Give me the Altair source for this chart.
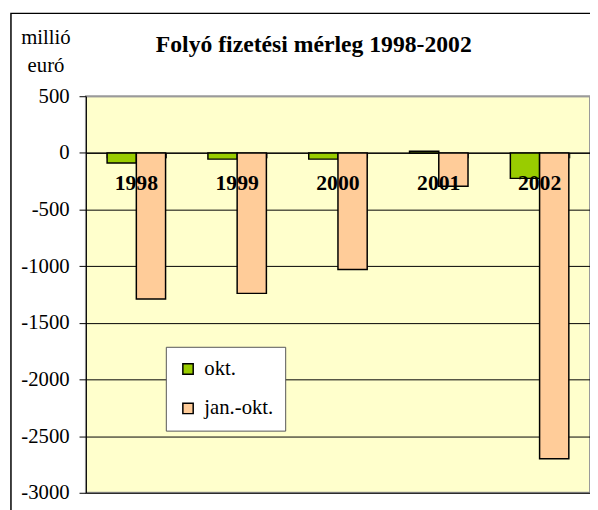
import altair as alt
import pandas as pd

years = ["1998", "1999", "2000", "2001", "2002"]
okt = [-90, -55, -55, 15, -225]
jan_okt = [-1290, -1240, -1030, -295, -2700]
series = ["okt.", "jan.-okt."]
colors = ["#99CC00", "#FFCC99"]
y_ticks = [500, 0, -500, -1000, -1500, -2000, -2500, -3000]
title_text = "Folyó fizetési mérleg 1998-2002"
unit_text = ["millió", "euró"]

rows = []
for i, yr in enumerate(years):
    rows.append({"year": yr, "series": series[0], "value": okt[i]})
    rows.append({"year": yr, "series": series[1], "value": jan_okt[i]})
df = pd.DataFrame(rows)
lab = pd.DataFrame({"year": years})
ttl = pd.DataFrame({"t": [title_text]})

W, H = 511, 402
FONT = "'Times New Roman', 'Liberation Serif', 'DejaVu Serif', serif"

x_axis = alt.Axis(labels=False, title=None, orient="bottom", offset=-(H - H / 7),
                  domainColor="black", domainWidth=1, tickColor="black", tickSize=5,
                  tickBand="extent", grid=False)
x_scale = alt.Scale(paddingInner=0.42, paddingOuter=0.21)
y_axis = alt.Axis(values=y_ticks, title=unit_text, titleAngle=0, titleAlign="center",
                  titleBaseline="alphabetic", titleX=-41, titleY=-53, titleLineHeight=28,
                  labelExpr="'' + datum.value", labelPadding=10,
                  tickSize=7, tickColor="black", domainColor="black", domainWidth=1,
                  grid=True,
                  gridColor={"condition": {"test": "datum.value == 500", "value": "#9A9A9A"},
                             "value": "black"},
                  gridWidth=1)
y_scale = alt.Scale(domain=[-3000, 500], nice=False, zero=False)

bars = alt.Chart(df).mark_bar(stroke="black", strokeWidth=1.5).encode(
    x=alt.X("year:N", sort=years, scale=x_scale, axis=x_axis),
    xOffset=alt.XOffset("series:N", sort=series, scale=alt.Scale(paddingInner=0, paddingOuter=0)),
    y=alt.Y("value:Q", scale=y_scale, axis=y_axis),
    color=alt.Color("series:N", sort=series, scale=alt.Scale(domain=series, range=colors),
                    legend=alt.Legend(title=None, orient="none", legendX=81, legendY=254,
                                      fillColor="white", strokeColor="#555555", padding=12,
                                      rowPadding=18, symbolType="square", symbolSize=110,
                                      symbolStrokeColor="black", symbolStrokeWidth=1.5,
                                      labelOffset=6)),
)

labels = alt.Chart(lab).mark_text(font=FONT, fontWeight="bold", fontSize=22, baseline="middle",
                                  dy=31, color="black").encode(
    x=alt.X("year:N", sort=years, scale=x_scale, axis=x_axis),
    y=alt.Y(datum=0, type="quantitative", scale=y_scale, axis=y_axis),
    text="year:N",
)

title_mark = alt.Chart(ttl).mark_text(font=FONT, fontWeight="bold", fontSize=24, color="black",
                                      baseline="alphabetic", align="center", clip=False).encode(
    x=alt.value(231), y=alt.value(-45), text="t:N"
)

border = alt.Chart(ttl).mark_rect(fillOpacity=0, stroke="black", strokeWidth=1.5, clip=False).encode(
    x=alt.value(-76), x2=alt.value(W + 40), y=alt.value(-84), y2=alt.value(H + 40)
)

chart = alt.layer(bars, labels, title_mark, border).properties(
    width=W, height=H,
    background="white",
    autosize=alt.AutoSizeParams(type="none"),
    padding={"left": 79, "top": 86, "right": 0, "bottom": 14},
).configure_view(
    fill="#FFFFCC", stroke="#9A9A9A", strokeWidth=2
).configure_axis(
    labelFont=FONT, labelFontSize=21, labelColor="black",
    titleFont=FONT, titleFontSize=21, titleFontWeight="normal", titleColor="black",
).configure_legend(
    labelFont=FONT, labelFontSize=21, labelColor="black",
)

chart.save("out.html", embed_options={"renderer": "svg", "actions": False})
